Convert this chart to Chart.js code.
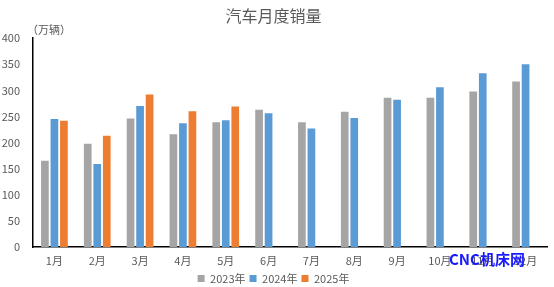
<!DOCTYPE html>
<html><head><meta charset="utf-8">
<script src="https://cdn.jsdelivr.net/npm/chart.js@4/dist/chart.umd.min.js"></script>
<style>html,body{margin:0;padding:0;background:#fff}#wrap{width:554px;height:287px}</style>
</head><body><div id="wrap"><canvas id="c" width="554" height="287"></canvas></div>
<script>
const categories = ['1月','2月','3月','4月','5月','6月','7月','8月','9月','10月','11月','12月'];
const sales2023 = [165, 198, 246, 216, 239, 263, 239, 259, 286, 286, 298, 317];
const sales2024 = [245, 159, 270, 237, 243, 256, 227, 247, 282, 306, 333, 350];
const sales2025 = [242, 213, 292, 260, 269, null, null, null, null, null, null, null];
const yTicks = [0, 50, 100, 150, 200, 250, 300, 350, 400];
const seriesNames = ['2023年', '2024年', '2025年'];
const FONT = '"Noto Sans CJK SC", "Noto Sans", sans-serif';

const extras = {
  id: 'extras',
  afterDraw(chart) {
    const ctx = chart.ctx, a = chart.chartArea;
    ctx.save();
    ctx.font = '11px ' + FONT;
    ctx.fillStyle = '#595959';
    ctx.textAlign = 'left';
    ctx.textBaseline = 'middle';
    ctx.fillText('（万辆）', a.left - 6, a.top - 8);
    ctx.font = 'bold 15px ' + FONT;
    ctx.fillStyle = '#1a1aff';
    ctx.fillText('CNC机床网', 449, 259);
    ctx.restore();
  }
};

new Chart(document.getElementById('c'), {
  type: 'bar',
  data: {
    labels: categories,
    datasets: [
      {label: seriesNames[0], data: sales2023, backgroundColor: '#a5a5a5'},
      {label: seriesNames[1], data: sales2024, backgroundColor: '#5b9bd5'},
      {label: seriesNames[2], data: sales2025, backgroundColor: '#ed7d31'}
    ]
  },
  options: {
    responsive: false,
    animation: false,
    layout: {padding: {left: 0, right: 7, top: 0, bottom: -7}},
    datasets: {bar: {categoryPercentage: 0.666, barPercentage: 0.81}},
    plugins: {
      title: {display: true, text: '汽车月度销量', color: '#595959',
        font: {family: FONT, size: 16, weight: 'normal'}, padding: {top: 6, bottom: 13}},
      legend: {position: 'bottom',
        labels: {boxWidth: 7, boxHeight: 7, padding: 4, color: '#595959',
          font: {family: FONT, size: 11}}},
      tooltip: {enabled: false}
    },
    scales: {
      x: {
        grid: {display: false, drawTicks: false},
        border: {display: true, color: '#000', width: 1.5},
        ticks: {color: '#595959', font: {family: FONT, size: 11}, padding: 7, maxRotation: 0, autoSkip: false},
        afterFit(s) { s.height = 22; }
      },
      y: {
        min: 0, max: 400,
        afterBuildTicks(s) { s.ticks = yTicks.map(v => ({value: v})); },
        grid: {display: false, drawTicks: false},
        border: {display: true, color: '#000', width: 1.5},
        ticks: {color: '#595959', font: {family: FONT, size: 11}, padding: 13},
        afterFit(s) { s.width = 33; }
      }
    }
  },
  plugins: [extras]
});
</script></body></html>
